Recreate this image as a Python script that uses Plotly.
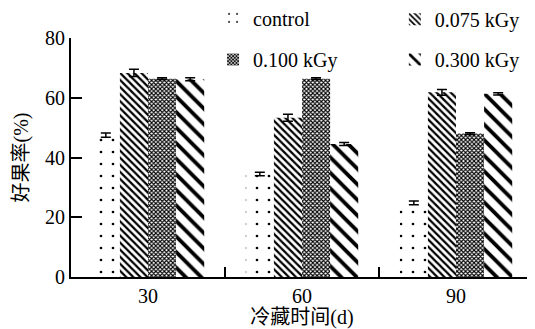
import plotly.graph_objects as go

days = ["30", "60", "90"]
series_names = ["control", "0.075 kGy", "0.100 kGy", "0.300 kGy"]
control = [47.5, 34.5, 24.8]
g075 = [68.3, 53.3, 61.8]
g100 = [66.4, 66.4, 48.0]
g300 = [66.2, 44.5, 61.3]
err_control = [0.7, 0.6, 0.6]
err_075 = [1.2, 1.2, 1.0]
err_100 = [0.3, 0.3, 0.3]
err_300 = [0.5, 0.5, 0.4]
y_ticks = [0, 20, 40, 60, 80]

values = [control, g075, g100, g300]
errors = [err_control, err_075, err_100, err_300]
patterns = [
    dict(shape=".", size=12, solidity=0.04),
    dict(shape="\\", size=5, solidity=0.45),
    dict(shape="x", size=3, solidity=0.6),
    dict(shape="\\", size=11, solidity=0.35),
]
legend_ids = ["legend", "legend2", "legend3", "legend4"]

fig = go.Figure()
for name, v, e, p, lg in zip(series_names, values, errors, patterns, legend_ids):
    pat = dict(p)
    pat.update(fgcolor="black", bgcolor="white", fillmode="replace", fgopacity=1)
    fig.add_trace(go.Bar(
        x=days, y=v, name=name, legend=lg,
        marker=dict(color="white", line=dict(width=0), pattern=pat),
        error_y=dict(type="data", array=e, visible=True, color="black",
                     thickness=1.5, width=5),
    ))

serif = "Liberation Serif, Times New Roman, Times, serif"
cjk = "Liberation Serif, Noto Sans CJK SC, serif"
leg_common = dict(xanchor="left", yanchor="middle", font=dict(family=serif, size=20),
                  bgcolor="rgba(0,0,0,0)", itemwidth=30)
# page body adds an 8px offset; the figure is sized so the plot lands where the reference has it
fig.update_layout(
    width=527, height=321,
    margin=dict(l=63, r=2, t=30, b=52, autoexpand=False),
    paper_bgcolor="white", plot_bgcolor="white",
    barmode="group", bargap=0.27, bargroupgap=0,
    font=dict(family=serif, size=20, color="black"),
    showlegend=True,
    legend=dict(x=0.3075, y=1.084, **leg_common),
    legend2=dict(x=0.701, y=1.078, **leg_common),
    legend3=dict(x=0.3075, y=0.91, **leg_common),
    legend4=dict(x=0.701, y=0.91, **leg_common),
)
fig.update_xaxes(
    type="category", showline=True, linecolor="black", linewidth=2,
    ticks="inside", tickson="boundaries", ticklen=10, tickwidth=2, tickcolor="black",
    tickfont=dict(family=serif, size=20), showgrid=False,
    title=dict(text="冷藏时间(d)", font=dict(family=cjk, size=20), standoff=0),
)
fig.update_yaxes(
    range=[0, 80], tickvals=y_ticks, showline=True, linecolor="black", linewidth=2,
    ticks="inside", ticklen=11, tickwidth=2, tickcolor="black",
    tickfont=dict(family=serif, size=20), showgrid=False, zeroline=False,
    title=dict(text="好果率(%)", font=dict(family=cjk, size=20), standoff=11),
)
fig.write_html("out.html")
